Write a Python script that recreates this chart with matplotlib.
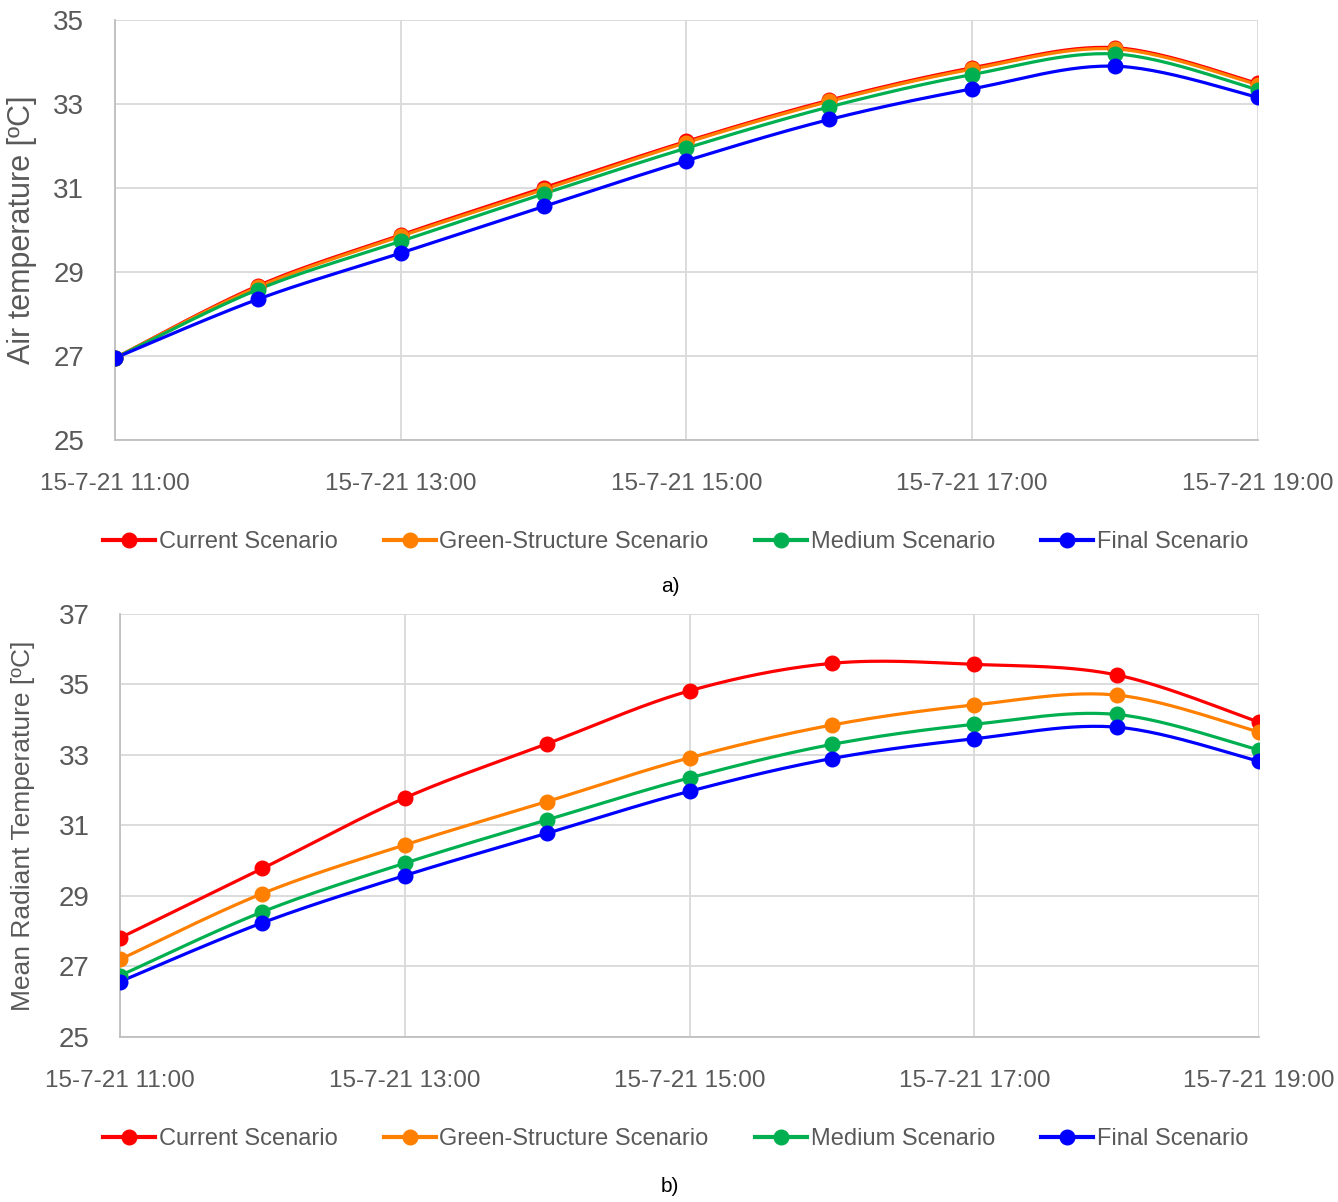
import numpy as np
import matplotlib
matplotlib.use("Agg")
import matplotlib.pyplot as plt
from matplotlib.lines import Line2D

# hours of 15-7-21, one reading per hour
hours = [11, 12, 13, 14, 15, 16, 17, 18, 19]
tick_hours = [11, 13, 15, 17, 19]
tick_labels = ["15-7-21 %d:00" % h for h in tick_hours]

scenarios = ["Current Scenario", "Green-Structure Scenario", "Medium Scenario", "Final Scenario"]
colors = ["#FF0000", "#FF8000", "#00B050", "#0000FF"]

# air temperature [ºC]
air_current = [26.95, 28.67, 29.88, 31.00, 32.11, 33.09, 33.86, 34.34, 33.49]
air_green = [26.95, 28.64, 29.85, 30.96, 32.08, 33.06, 33.83, 34.31, 33.46]
air_medium = [26.95, 28.58, 29.73, 30.86, 31.95, 32.93, 33.70, 34.19, 33.34]
air_final = [26.95, 28.35, 29.45, 30.56, 31.65, 32.63, 33.36, 33.90, 33.16]

# mean radiant temperature [ºC]
mrt_current = [27.81, 29.78, 31.78, 33.32, 34.82, 35.60, 35.57, 35.27, 33.93]
mrt_green = [27.20, 29.07, 30.45, 31.68, 32.92, 33.85, 34.42, 34.70, 33.65]
mrt_medium = [26.74, 28.55, 29.93, 31.16, 32.35, 33.30, 33.87, 34.15, 33.14]
mrt_final = [26.57, 28.24, 29.58, 30.78, 31.97, 32.90, 33.46, 33.79, 32.82]

GREY_TXT = "#595959"
GRID = "#D9D9D9"
FONT = ["Liberation Sans", "DejaVu Sans"]


def smooth(x, y, n=30):
    # Excel style smoothed line: cubic bezier with catmull-rom control points
    x = np.asarray(x, float)
    y = np.asarray(y, float)
    px = np.concatenate([[x[0]], x, [x[-1]]])
    py = np.concatenate([[y[0]], y, [y[-1]]])
    t = np.linspace(0, 1, n)
    xs, ys = [], []
    for i in range(1, len(px) - 2):
        p0 = np.array([px[i], py[i]])
        p3 = np.array([px[i + 1], py[i + 1]])
        c1 = p0 + (p3 - np.array([px[i - 1], py[i - 1]])) / 6
        c2 = p3 - (np.array([px[i + 2], py[i + 2]]) - p0) / 6
        b = ((1 - t) ** 3)[:, None] * p0 + (3 * (1 - t) ** 2 * t)[:, None] * c1 \
            + (3 * (1 - t) * t ** 2)[:, None] * c2 + (t ** 3)[:, None] * p3
        xs.append(b[:, 0])
        ys.append(b[:, 1])
    return np.concatenate(xs), np.concatenate(ys)


def draw_panel(ax, series, ylim, yticks, ylabel, ylabel_size):
    for vals, c in zip(series, colors):
        sx, sy = smooth(hours, vals)
        ax.plot(sx, sy, color=c, lw=2.3, solid_capstyle="round", zorder=3)
        ax.plot(hours, vals, "o", color=c, ms=10.5, zorder=4)
    ax.set_xlim(11, 19)
    ax.set_ylim(*ylim)
    ax.set_yticks(yticks)
    ax.set_xticks(tick_hours)
    ax.set_xticklabels(tick_labels, family=FONT, fontsize=17.5, color=GREY_TXT)
    for lab in ax.get_yticklabels():
        lab.set_family(FONT)
        lab.set_fontsize(20)
        lab.set_color(GREY_TXT)
    ax.tick_params(axis="x", length=0, pad=24)
    ax.tick_params(axis="y", length=0, pad=22)
    ax.grid(True, color=GRID, lw=1.3)
    ax.set_axisbelow(True)
    for side in ["top", "right"]:
        ax.spines[side].set_visible(False)
    for side in ["left", "bottom"]:
        ax.spines[side].set_color("#BFBFBF")
        ax.spines[side].set_linewidth(1.3)
    ax.set_ylabel(ylabel, family=FONT, fontsize=ylabel_size, color=GREY_TXT)


fig = plt.figure(figsize=(13.38, 12.02), dpi=100)
ax1 = fig.add_axes([0.0859, 0.634, 0.8543, 0.3494])
ax2 = fig.add_axes([0.0897, 0.1373, 0.8513, 0.3519])

draw_panel(ax1, [air_current, air_green, air_medium, air_final],
           (25, 35), [25, 27, 29, 31, 33, 35], "Air temperature [ºC]", 22)
draw_panel(ax2, [mrt_current, mrt_green, mrt_medium, mrt_final],
           (25, 37), [25, 27, 29, 31, 33, 35, 37], "Mean Radiant Temperature [ºC]", 19)
ax1.yaxis.set_label_coords(-0.068, 0.5)
ax2.yaxis.set_label_coords(-0.075, 0.5)

handles = [Line2D([], [], color=c, lw=3, marker="o", ms=10.5) for c in colors]
for ypix in (542, 1139):
    fig.legend(handles, scenarios, loc="center", bbox_to_anchor=(0.505, 1 - ypix / 1202),
               ncol=4, frameon=False, handlelength=2.2, handletextpad=0.15,
               columnspacing=1.97, prop={"family": FONT, "size": 17},
               labelcolor=GREY_TXT)

fig.text(670 / 1338, 1 - 587 / 1202, "a)", ha="center", va="center",
         family=FONT, fontsize=15, color="black")
fig.text(670 / 1338, 1 - 1186 / 1202, "b)", ha="center", va="center",
         family=FONT, fontsize=15, color="black")

fig.savefig("out.png", dpi=100)
